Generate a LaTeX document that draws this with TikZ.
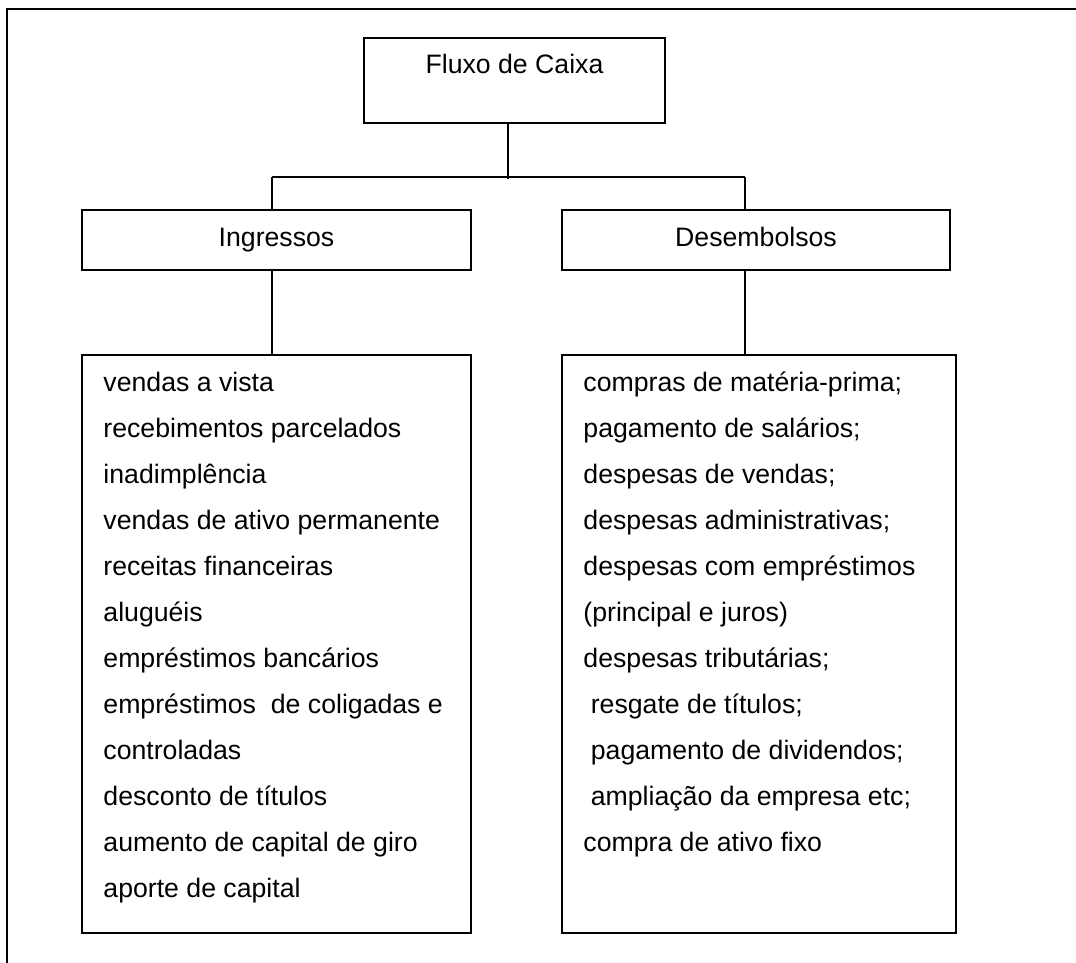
\documentclass[tikz,border=0pt]{standalone}
\usepackage{fontspec}
\setmainfont{Liberation Sans}
\begin{document}
\begin{tikzpicture}[x=0.45pt,y=-0.45pt,
  box/.style={draw, line width=0.6pt, rectangle, inner sep=0pt},
  link/.style={draw, line width=0.6pt},
  frame/.style={draw, line width=0.8pt},
  txt/.style={inner sep=0pt, font=\fontsize{12}{14}\selectfont},
  item/.style={txt, anchor=base west}]
  \useasboundingbox (0,0) rectangle (1076,963);

  % page frame (open towards right and bottom)
  \draw[frame] (7,963) -- (7,9) -- (1076,9);

  % boxes
  \node[box, minimum width=301*0.45pt, minimum height=85*0.45pt] (caixa) at (514.5,80.5) {};
  \node[txt, anchor=base] (caixatxt) at (514.5,73) {Fluxo de Caixa};

  \node[box, minimum width=389*0.45pt, minimum height=60*0.45pt] (ingr) at (276.5,240) {};
  \node[txt, anchor=base] (ingrtxt) at (276.5,246) {Ingressos};

  \node[box, minimum width=388*0.45pt, minimum height=60*0.45pt] (desem) at (756,240) {};
  \node[txt, anchor=base] (desemtxt) at (756,246) {Desembolsos};

  \node[box, minimum width=389*0.45pt, minimum height=578*0.45pt] (listL) at (276.5,644) {};
  \node[box, minimum width=394*0.45pt, minimum height=578*0.45pt] (listR) at (759,644) {};

  % connectors
  \coordinate (busM) at (508,177);
  \coordinate (busL) at (272,177);
  \coordinate (busR) at (745,177);
  \draw[link] (caixa.south -| busM) -- ([yshift=-1pt]busM);
  \draw[link] (busL) -- (busR);
  \draw[link] (busL) -- (busL |- ingr.north);
  \draw[link] (busR) -- (busR |- desem.north);
  \draw[link] (ingr.south -| busL) -- (busL |- listL.north);
  \draw[link] (desem.south -| busR) -- (busR |- listR.north);

  % receipts
  \foreach \t [count=\i from 0] in {
      vendas a vista,
      recebimentos parcelados,
      inadimplência,
      vendas de ativo permanente,
      receitas financeiras,
      aluguéis,
      empréstimos bancários,
      empréstimos~ de coligadas e,
      controladas,
      desconto de títulos,
      aumento de capital de giro,
      aporte de capital}
    \node[item] (in\i) at (103,391+46*\i) {\t};

  % disbursements
  \foreach \t [count=\i from 0] in {
      compras de matéria-prima;,
      pagamento de salários;,
      despesas de vendas;,
      despesas administrativas;,
      despesas com empréstimos,
      (principal e juros),
      despesas tributárias;,
      \ resgate de títulos;,
      \ pagamento de dividendos;,
      \ ampliação da empresa etc;,
      compra de ativo fixo}
    \node[item] (out\i) at (583,391+46*\i) {\t};
\end{tikzpicture}
\end{document}
